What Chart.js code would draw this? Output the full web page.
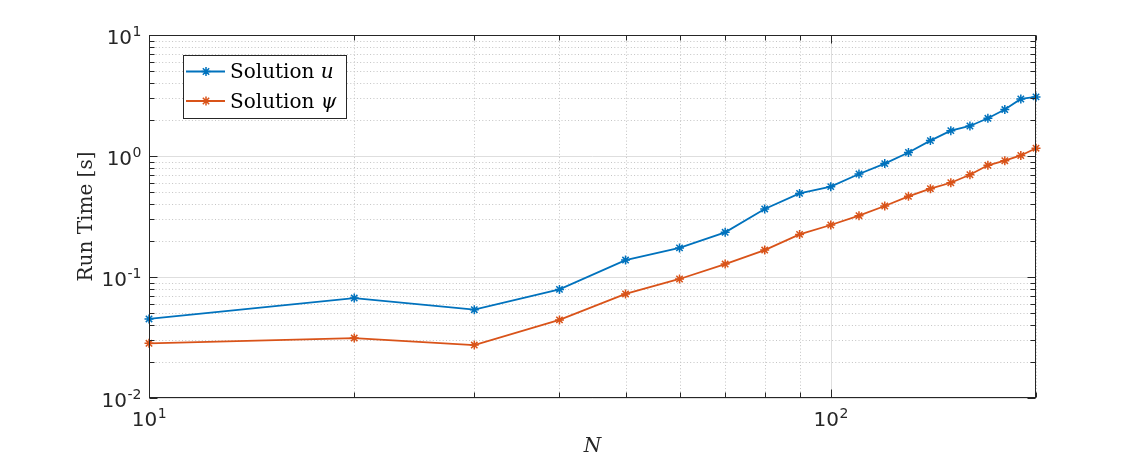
<!DOCTYPE html>
<html>
<head>
<meta charset="utf-8">
<script src="https://cdn.jsdelivr.net/npm/chart.js@4/dist/chart.umd.min.js"></script>
<style>
html,body{margin:0;padding:0;background:#fff;}
#wrap{width:1145px;height:462px;}
</style>
</head>
<body>
<div id="wrap"><canvas id="c" width="1145" height="462"></canvas></div>
<script>
// ---- data ----
const N = [10, 20, 30, 40, 50, 60, 70, 80, 90, 100, 110, 120, 130, 140, 150, 160, 170, 180, 190, 200];
const solutionU = [0.045, 0.067, 0.0537, 0.079, 0.138, 0.174, 0.234, 0.365, 0.491, 0.558, 0.71, 0.865, 1.07, 1.34, 1.62, 1.77, 2.05, 2.42, 2.96, 3.08];
const solutionPsi = [0.0283, 0.0313, 0.0274, 0.0442, 0.0724, 0.0963, 0.128, 0.167, 0.225, 0.269, 0.321, 0.386, 0.464, 0.537, 0.601, 0.70, 0.838, 0.914, 1.01, 1.16];
const seriesNames = ['Solution ', 'Solution '];
const seriesSymbols = ['u', '\u03C8'];
const seriesColors = ['#0072BD', '#D95319'];
const xMajorTicks = [10, 100];
const xMajorLabels = [['10', '1'], ['10', '2']];
const xMinorTicks = [20, 30, 40, 50, 60, 70, 80, 90, 200];
const yMajorTicks = [0.01, 0.1, 1, 10];
const yMajorLabels = [['10', '-2'], ['10', '-1'], ['10', '0'], ['10', '1']];
const yMinorTicks = [0.02,0.03,0.04,0.05,0.06,0.07,0.08,0.09,0.2,0.3,0.4,0.5,0.6,0.7,0.8,0.9,2,3,4,5,6,7,8,9];
const xTitle = 'N';
const yTitle = 'Run Time [s]';

const AX = '#262626';

function drawStar(ctx, x, y, r) {
  ctx.beginPath();
  ctx.moveTo(x - r, y); ctx.lineTo(x + r, y);
  ctx.moveTo(x, y - r); ctx.lineTo(x, y + r);
  const d = r * Math.SQRT1_2;
  ctx.moveTo(x - d, y - d); ctx.lineTo(x + d, y + d);
  ctx.moveTo(x - d, y + d); ctx.lineTo(x + d, y - d);
  ctx.stroke();
}

const matlabAxes = {
  id: 'matlabAxes',
  beforeDatasetsDraw(chart) {
    const {ctx, chartArea: a, scales: {x, y}} = chart;
    ctx.save();
    ctx.lineWidth = 1;
    // minor dotted grid
    ctx.strokeStyle = '#c4c4c4';
    ctx.setLineDash([1, 2.3]);
    ctx.beginPath();
    xMinorTicks.forEach(v => {
      const p = Math.round(x.getPixelForValue(v)) + 0.5;
      ctx.moveTo(p, a.top); ctx.lineTo(p, a.bottom);
    });
    yMinorTicks.forEach(v => {
      const p = Math.round(y.getPixelForValue(v)) + 0.5;
      ctx.moveTo(a.left, p); ctx.lineTo(a.right, p);
    });
    ctx.stroke();
    // major solid grid
    ctx.setLineDash([]);
    ctx.strokeStyle = '#dedede';
    ctx.beginPath();
    xMajorTicks.forEach(v => {
      const p = Math.round(x.getPixelForValue(v)) + 0.5;
      ctx.moveTo(p, a.top); ctx.lineTo(p, a.bottom);
    });
    yMajorTicks.forEach(v => {
      const p = Math.round(y.getPixelForValue(v)) + 0.5;
      ctx.moveTo(a.left, p); ctx.lineTo(a.right, p);
    });
    ctx.stroke();
    ctx.restore();
  },
  afterDatasetsDraw(chart) {
    const {ctx, chartArea: a, scales: {x, y}} = chart;
    ctx.save();
    const L = Math.round(a.left) + 0.5, R = Math.round(a.right) - 0.5;
    const T = Math.round(a.top) + 0.5, B = Math.round(a.bottom) - 0.5;
    ctx.strokeStyle = AX;
    ctx.lineWidth = 1;
    ctx.beginPath();
    const tick = (v, len, isX) => {
      if (isX) {
        const p = Math.round(x.getPixelForValue(v)) + 0.5;
        ctx.moveTo(p, B); ctx.lineTo(p, B - len);
        ctx.moveTo(p, T); ctx.lineTo(p, T + len);
      } else {
        const p = Math.round(y.getPixelForValue(v)) + 0.5;
        ctx.moveTo(L, p); ctx.lineTo(L + len, p);
        ctx.moveTo(R, p); ctx.lineTo(R - len, p);
      }
    };
    xMajorTicks.forEach(v => tick(v, 8, true));
    xMinorTicks.forEach(v => tick(v, 5, true));
    yMajorTicks.forEach(v => tick(v, 8, false));
    yMinorTicks.forEach(v => tick(v, 5, false));
    ctx.stroke();
    ctx.strokeRect(L, T, R - L, B - T);

    // tick labels
    const baseFont = '20px "DejaVu Sans"', supFont = '14px "DejaVu Sans"';
    ctx.fillStyle = AX;
    ctx.textBaseline = 'alphabetic';
    ctx.textAlign = 'left';
    const measure = (lab) => {
      ctx.font = baseFont; const w1 = ctx.measureText(lab[0]).width;
      ctx.font = supFont; const w2 = ctx.measureText(lab[1]).width;
      return [w1, w2];
    };
    const drawLab = (lab, x0, baseY, supY) => {
      const [w1] = measure(lab);
      ctx.font = baseFont; ctx.fillText(lab[0], x0, baseY);
      ctx.font = supFont; ctx.fillText(lab[1], x0 + w1 + 0.5, supY);
    };
    xMajorTicks.forEach((v, i) => {
      const p = x.getPixelForValue(v);
      const [w1, w2] = measure(xMajorLabels[i]);
      drawLab(xMajorLabels[i], p - (w1 + w2) / 2, a.bottom + 28, a.bottom + 20);
    });
    yMajorTicks.forEach((v, i) => {
      const p = y.getPixelForValue(v);
      const [w1, w2] = measure(yMajorLabels[i]);
      drawLab(yMajorLabels[i], a.left - 8 - (w1 + w2), p + 9, p + 0.5);
    });

    // axis titles
    ctx.fillStyle = AX;
    ctx.font = 'italic 20px "DejaVu Serif"';
    ctx.textAlign = 'center';
    ctx.fillText(xTitle, (a.left + a.right) / 2, 452);
    ctx.save();
    ctx.translate(92, (a.top + a.bottom) / 2);
    ctx.rotate(-Math.PI / 2);
    ctx.font = '20px "DejaVu Serif"';
    ctx.fillText(yTitle, 0, 0);
    ctx.restore();

    // legend
    const lx = 183.5, ly = 55.5, lw = 163, lh = 63;
    ctx.fillStyle = '#ffffff';
    ctx.fillRect(lx, ly, lw, lh);
    ctx.strokeStyle = AX;
    ctx.lineWidth = 1;
    ctx.strokeRect(lx, ly, lw, lh);
    const rows = [71.5, 101];
    ctx.textAlign = 'left';
    rows.forEach((ry, i) => {
      ctx.strokeStyle = seriesColors[i];
      ctx.lineWidth = 1.8;
      ctx.beginPath(); ctx.moveTo(186, ry); ctx.lineTo(225, ry); ctx.stroke();
      ctx.lineWidth = 1.5;
      drawStar(ctx, 206, ry, 4.5);
      ctx.fillStyle = '#000000';
      ctx.font = '20px "DejaVu Serif"';
      ctx.fillText(seriesNames[i], 230, ry + 6.5);
      const w = ctx.measureText(seriesNames[i]).width;
      ctx.font = 'italic 20px "DejaVu Serif"';
      ctx.fillText(seriesSymbols[i], 230 + w, ry + 6.5);
    });
    ctx.restore();
  }
};

new Chart(document.getElementById('c'), {
  type: 'line',
  data: {
    labels: N,
    datasets: [
      {label: 'Solution u', data: N.map((n, i) => ({x: n, y: solutionU[i]})), borderColor: seriesColors[0], backgroundColor: seriesColors[0], borderWidth: 1.8, pointStyle: 'star', pointRadius: 4.5, pointBorderWidth: 1.5, tension: 0, fill: false, clip: false},
      {label: 'Solution \u03C8', data: N.map((n, i) => ({x: n, y: solutionPsi[i]})), borderColor: seriesColors[1], backgroundColor: seriesColors[1], borderWidth: 1.8, pointStyle: 'star', pointRadius: 4.5, pointBorderWidth: 1.5, tension: 0, fill: false, clip: false}
    ]
  },
  options: {
    responsive: false,
    animation: false,
    devicePixelRatio: 1,
    layout: {padding: {left: 0, top: 35, right: 109, bottom: 0}},
    plugins: {legend: {display: false}, tooltip: {enabled: false}},
    scales: {
      x: {type: 'logarithmic', min: 10, max: 200, ticks: {display: false}, grid: {display: false}, border: {display: false}, afterFit(s) { s.height = 64; }},
      y: {type: 'logarithmic', min: 0.01, max: 10, ticks: {display: false}, grid: {display: false}, border: {display: false}, afterFit(s) { s.width = 149; }}
    }
  },
  plugins: [matlabAxes]
});
</script>
</body>
</html>
